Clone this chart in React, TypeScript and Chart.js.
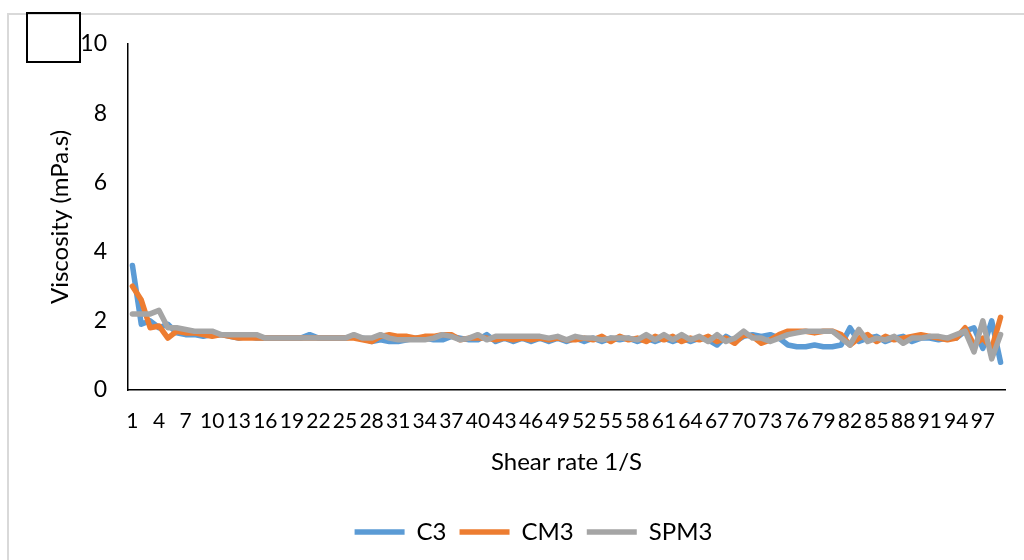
import React, { useEffect, useRef } from "react";
import { Chart, registerables } from "chart.js";

Chart.register(...registerables);

const categories: string[] = Array.from({ length: 99 }, (_, i) => String(i + 1));

const c3: number[] = [
  3.6, 1.9, 2.0, 1.8, 1.9, 1.65, 1.6, 1.6, 1.55, 1.6,
  1.6, 1.55, 1.5, 1.55, 1.5, 1.5, 1.5, 1.5, 1.5, 1.5,
  1.6, 1.5, 1.5, 1.5, 1.5, 1.55, 1.5, 1.4, 1.45, 1.4,
  1.4, 1.45, 1.5, 1.5, 1.45, 1.45, 1.55, 1.5, 1.45, 1.45,
  1.6, 1.4, 1.5, 1.4, 1.5, 1.4, 1.5, 1.4, 1.5, 1.4,
  1.5, 1.4, 1.5, 1.4, 1.5, 1.45, 1.5, 1.4, 1.5, 1.4,
  1.5, 1.4, 1.5, 1.4, 1.5, 1.45, 1.3, 1.55, 1.4, 1.55,
  1.6, 1.55, 1.6, 1.5, 1.3, 1.25, 1.25, 1.3, 1.25, 1.25,
  1.3, 1.8, 1.4, 1.5, 1.55, 1.4, 1.5, 1.55, 1.4, 1.5,
  1.5, 1.45, 1.5, 1.5, 1.7, 1.8, 1.2, 2.0, 0.8,
];

const cm3: number[] = [
  3.0, 2.6, 1.8, 1.85, 1.5, 1.7, 1.65, 1.65, 1.6, 1.55,
  1.6, 1.55, 1.5, 1.5, 1.5, 1.5, 1.5, 1.5, 1.5, 1.5,
  1.5, 1.5, 1.5, 1.5, 1.5, 1.5, 1.45, 1.4, 1.55, 1.6,
  1.55, 1.55, 1.5, 1.55, 1.55, 1.6, 1.6, 1.45, 1.5, 1.5,
  1.5, 1.45, 1.5, 1.45, 1.5, 1.45, 1.5, 1.45, 1.5, 1.45,
  1.45, 1.5, 1.45, 1.55, 1.4, 1.55, 1.45, 1.5, 1.4, 1.55,
  1.45, 1.55, 1.4, 1.5, 1.45, 1.55, 1.4, 1.5, 1.35, 1.6,
  1.55, 1.35, 1.45, 1.6, 1.7, 1.7, 1.7, 1.65, 1.7, 1.7,
  1.6, 1.3, 1.5, 1.6, 1.4, 1.55, 1.45, 1.5, 1.55, 1.6,
  1.55, 1.5, 1.45, 1.5, 1.8, 1.3, 1.5, 1.2, 2.1,
];

const spm3: number[] = [
  2.2, 2.2, 2.2, 2.3, 1.8, 1.8, 1.75, 1.7, 1.7, 1.7,
  1.6, 1.6, 1.6, 1.6, 1.6, 1.5, 1.5, 1.5, 1.5, 1.5,
  1.5, 1.5, 1.5, 1.5, 1.5, 1.6, 1.5, 1.5, 1.6, 1.5,
  1.45, 1.45, 1.45, 1.45, 1.5, 1.6, 1.55, 1.45, 1.5, 1.6,
  1.45, 1.55, 1.55, 1.55, 1.55, 1.55, 1.55, 1.5, 1.55, 1.45,
  1.55, 1.5, 1.5, 1.45, 1.5, 1.5, 1.5, 1.45, 1.6, 1.45,
  1.6, 1.45, 1.6, 1.45, 1.55, 1.4, 1.6, 1.4, 1.5, 1.7,
  1.5, 1.5, 1.4, 1.5, 1.6, 1.65, 1.7, 1.7, 1.7, 1.7,
  1.5, 1.3, 1.75, 1.4, 1.5, 1.45, 1.55, 1.35, 1.5, 1.5,
  1.55, 1.55, 1.5, 1.6, 1.7, 1.1, 2.0, 0.9, 1.6,
];

const seriesNames = ["C3", "CM3", "SPM3"];
const seriesColors = ["#5B9BD5", "#ED7D31", "#A5A5A5"];
const yTicks = [0, 2, 4, 6, 8, 10];

const FONT = "Lato, 'DejaVu Sans', sans-serif";

const legendShift = {
  id: "legendShift",
  afterLayout(chart: any) {
    const l = chart.legend;
    if (l) {
      l.left += 31;
      l.right += 31;
    }
  },
};

export default function App() {
  const canvasRef = useRef<HTMLCanvasElement | null>(null);

  useEffect(() => {
    const canvas = canvasRef.current;
    if (!canvas) return;
    const data = [c3, cm3, spm3];
    const chart = new Chart(canvas, {
      type: "line",
      data: {
        labels: categories,
        datasets: data.map((d, i) => ({
          label: seriesNames[i],
          data: d,
          borderColor: seriesColors[i],
          backgroundColor: seriesColors[i],
          borderWidth: 5.5,
          borderCapStyle: "round" as const,
          borderJoinStyle: "round" as const,
          pointRadius: 0,
          pointStyle: "line" as const,
          tension: 0,
          fill: false,
          order: 3 - i,
        })),
      },
      plugins: [legendShift],
      options: {
        responsive: false,
        animation: false,
        events: [],
        layout: { padding: { left: 0, right: 19, top: 44, bottom: 6 } },
        plugins: {
          tooltip: { enabled: false },
          legend: {
            position: "bottom",
            labels: {
              usePointStyle: true,
              pointStyleWidth: 50,
              font: { family: FONT, size: 24 },
              color: "#000",
              padding: 13,
              sort: (a: any, b: any) => a.datasetIndex - b.datasetIndex,
            },
          },
        },
        scales: {
          x: {
            type: "category",
            offset: true,
            grid: { display: false, drawTicks: false },
            border: { display: true, color: "#000", width: 1.5 },
            ticks: {
              autoSkip: false,
              maxRotation: 0,
              minRotation: 0,
              padding: 19,
              color: "#000",
              font: { family: FONT, size: 21 },
              callback: (_v: any, idx: number) => (idx % 3 === 0 ? categories[idx] : ""),
            },
            title: {
              display: true,
              text: "Shear rate 1/S",
              color: "#000",
              font: { family: FONT, size: 24 },
              padding: { top: 0, bottom: 30.6 },
            },
            afterFit: (s: any) => {
              s.height = 117;
            },
          },
          y: {
            min: 0,
            max: 10,
            afterBuildTicks: (s: any) => {
              s.ticks = yTicks.map((v) => ({ value: v }));
            },
            grid: { display: false, drawTicks: false },
            border: { display: true, color: "#000", width: 1.5 },
            ticks: {
              padding: 21,
              color: "#000",
              font: { family: FONT, size: 23 },
            },
            title: {
              display: true,
              text: "Viscosity (mPa.s)",
              color: "#000",
              font: { family: FONT, size: 24 },
              padding: { top: 45.6, bottom: 0 },
            },
            afterFit: (s: any) => {
              s.width = 128;
            },
          },
        },
      },
    });
    return () => chart.destroy();
  }, []);

  return (
    <div
      style={{
        position: "fixed",
        left: 0,
        top: 0,
        width: 1024,
        height: 560,
        overflow: "hidden",
        background: "#fff",
      }}
    >
      <div
        style={{
          position: "absolute",
          left: 7,
          top: 13,
          width: 1100,
          height: 700,
          border: "2px solid #d9d9d9",
        }}
      />
      <canvas
        ref={canvasRef}
        width={1024}
        height={560}
        style={{ position: "absolute", left: 0, top: 0, width: 1024, height: 560 }}
      />
      <div
        style={{
          position: "absolute",
          left: 26,
          top: 12,
          width: 51,
          height: 47,
          border: "2px solid #000",
        }}
      />
    </div>
  );
}
